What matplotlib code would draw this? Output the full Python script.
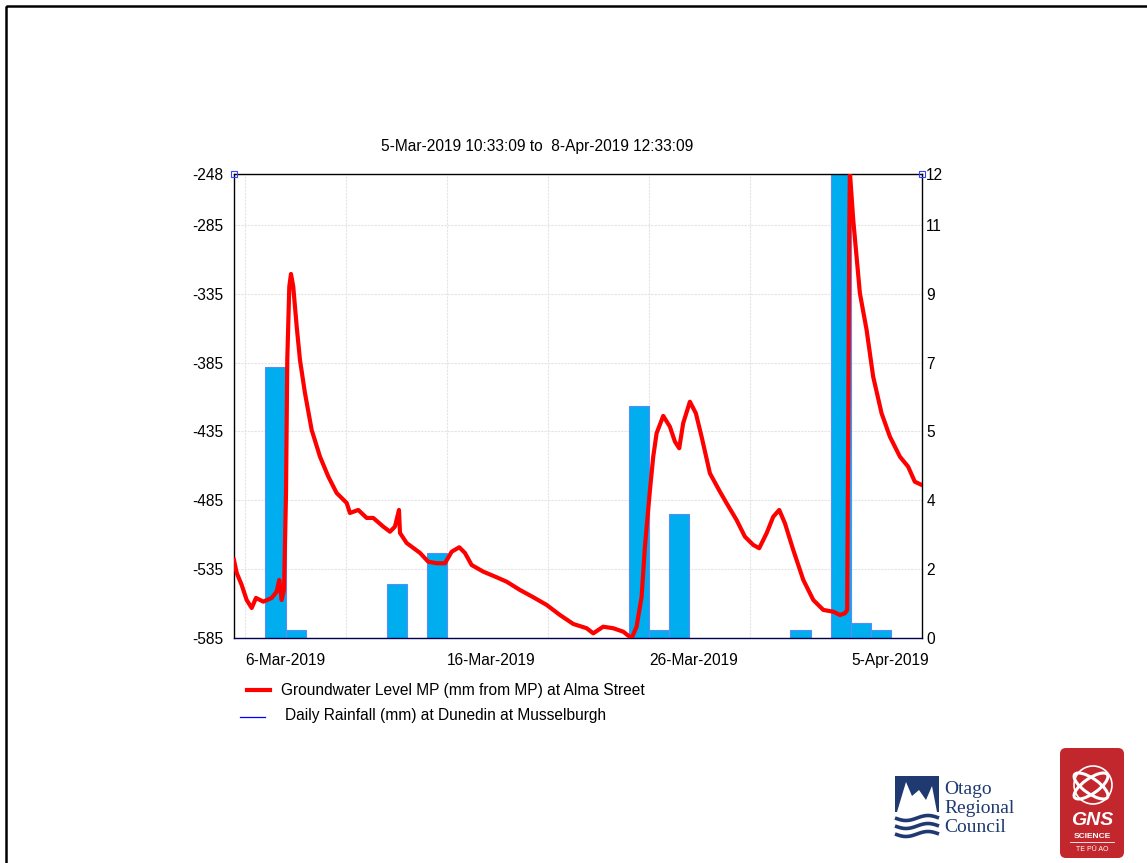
import numpy as np
import pandas as pd
import matplotlib
matplotlib.use("Agg")
import matplotlib.pyplot as plt
import matplotlib.transforms as mtrans
from matplotlib.patches import Rectangle, FancyBboxPatch, Ellipse, Polygon, Circle

plt.rcParams['font.family'] = ['Liberation Sans', 'DejaVu Sans']

# ---- data ----
t_start = pd.Timestamp('2019-03-05 10:33:09')
t_end = pd.Timestamp('2019-04-08 12:33:09')

# groundwater level, hours after 2019-03-05 00:00
gw_hours = [10.5, 13.8, 19.7, 25.6, 31.6, 36.7, 45.4, 55.4, 61.3, 64.4, 67.2, 70.0,
            72.4, 73.9, 76.3, 78.3, 81.0, 85.1, 89.0, 94.9, 102.9, 112.8, 122.7, 132.6,
            144.5, 148.4, 158.3, 168.3, 176.1, 188.0, 196.0, 201.9, 206.7, 207.9, 215.8,
            231.7, 241.5, 251.5, 261.4, 269.4, 278.4, 285.1, 293.1, 306.9, 322.8, 334.7,
            350.5, 366.4, 382.3, 398.1, 413.9, 429.8, 437.7, 449.5, 461.4, 473.3, 483.3,
            489.2, 495.2, 499.1, 505.1, 509.0, 513.0, 520.9, 528.8, 534.8, 539.9, 544.6,
            552.6, 559.7, 566.5, 576.4, 588.3, 596.2, 608.1, 618.0, 627.9, 635.0, 643.8,
            651.7, 658.8, 665.6, 675.5, 687.4, 699.3, 711.2, 723.1, 731.0, 737.0, 739.6,
            740.8, 742.0, 742.8, 746.8, 754.7, 762.7, 770.5, 780.5, 790.4, 802.3, 812.1,
            820.0, 828.5]
gw_level = [-528.3, -537.8, -546.5, -557.4, -563.2, -555.9, -558.6, -555.9, -551.3, -542.8,
            -557.4, -550.1, -479.7, -383.1, -329.8, -320.6, -329.8, -358.9, -383.1, -407.0,
            -433.9, -453.3, -467.8, -479.7, -486.9, -494.2, -492.0, -497.8, -497.8, -504.1,
            -507.8, -504.1, -492.0, -508.7, -516.0, -523.2, -529.6, -530.7, -530.7, -522.3,
            -519.1, -523.2, -532.0, -536.8, -540.9, -544.1, -550.1, -555.4, -561.0, -568.3,
            -574.8, -577.9, -581.6, -576.8, -577.9, -580.4, -585.2, -576.8, -555.0, -518.7,
            -477.5, -453.3, -436.3, -423.7, -431.5, -442.4, -447.2, -429.0, -413.4, -421.8,
            -438.8, -465.4, -478.7, -487.1, -499.3, -511.4, -517.4, -519.8, -508.9, -496.9,
            -492.0, -501.7, -521.1, -542.8, -557.4, -564.6, -565.9, -568.3, -567.0, -564.6,
            -438.8, -293.5, -246.5, -281.4, -334.6, -361.3, -395.2, -421.8, -438.8, -453.3,
            -460.6, -471.5, -473.9]

rain_days = ['2019-03-07', '2019-03-08', '2019-03-13', '2019-03-15', '2019-03-25',
             '2019-03-26', '2019-03-27', '2019-04-02', '2019-04-04', '2019-04-05',
             '2019-04-06']
rain_mm = [7.0, 0.2, 1.4, 2.2, 6.0, 0.2, 3.2, 0.2, 16.0, 0.4, 0.2]

level_ticks = [-585, -535, -485, -435, -385, -335, -285, -248]
level_lim = (-585, -248)
rain_lim = (0, 12)
grid_days = pd.date_range('2019-03-06', periods=7, freq='5D')

title = '5-Mar-2019 10:33:09 to  8-Apr-2019 12:33:09'
gw_label = 'Groundwater Level MP (mm from MP) at Alma Street'
rain_label = 'Daily Rainfall (mm) at Dunedin at Musselburgh'

FS = 11.2
W, H = 1147, 863
fig = plt.figure(figsize=(W / 100, H / 100), dpi=100)

# rainfall axes (bottom layer, carries grid and right ticks)
ax = fig.add_axes([234 / W, 1 - 638 / H, 688 / W, 464 / H])
ax.bar(pd.to_datetime(rain_days), rain_mm, width=1.0, align='edge',
       color='#00adef', edgecolor='#5b8cf5', linewidth=0.8, zorder=2)
ax.set_xlim(t_start, t_end)
ax.set_ylim(*rain_lim)

# groundwater axes on top
ax2 = ax.twinx()
ax2.plot(t_start.normalize() + pd.to_timedelta(gw_hours, unit='h'), gw_level,
         color='#ff0000', linewidth=3.0, solid_joinstyle='round', zorder=3)
ax2.set_ylim(*level_lim)
ax2.set_xlim(t_start, t_end)
ax2.yaxis.tick_left()
ax2.set_yticks(level_ticks)
ax2.set_yticklabels([str(v) for v in level_ticks])
ax2.tick_params(axis='y', length=0, labelsize=FS, pad=8)
for s in ax2.spines.values():
    s.set_visible(False)

# rainfall ticks on the right, level with the left ones, labels rounded
ax.yaxis.tick_right()
right_pos = [(v - level_lim[0]) / (level_lim[1] - level_lim[0]) * rain_lim[1] for v in level_ticks]
ax.set_yticks(right_pos)
ax.set_yticklabels([str(int(round(p))) for p in right_pos])

ax.set_xticks(grid_days)
ax.set_xticklabels([d.strftime('%-d-%b-%Y') if i % 2 == 0 else '' for i, d in enumerate(grid_days)])
for lab in ax.get_xticklabels():
    lab.set_horizontalalignment('left')
    lab.set_transform(lab.get_transform() + mtrans.ScaledTranslation(-3 / 100, 0, fig.dpi_scale_trans))

ax.grid(True, color='#e4e4e4', linewidth=0.8, linestyle=(0, (2, 1)))
ax.set_axisbelow(True)
ax.tick_params(axis='both', length=0, labelsize=FS)
ax.tick_params(axis='x', pad=11)
ax.tick_params(axis='y', pad=3)
for s in ax.spines.values():
    s.set_color('black')
    s.set_linewidth(1.0)
ax.spines['bottom'].set_color('#000050')

# little corner markers
ax2.plot([t_start, t_end], [level_lim[1], level_lim[1]], linestyle='none', marker='s',
         markersize=4, markerfacecolor='none', markeredgecolor='#3344ff',
         markeredgewidth=0.8, clip_on=False, zorder=5)

fig.text(381 / W, 1 - 147 / H, title, fontsize=FS, ha='left', va='center')

# page decorations in pixel coordinates
deco = fig.add_axes([0, 0, 1, 1], zorder=-1)
deco.set_xlim(0, W)
deco.set_ylim(H, 0)
deco.axis('off')
deco.add_patch(Rectangle((6, 6), W + 20, H + 20, fill=False, edgecolor='black', linewidth=1.8))

# legend
deco.plot([247, 270], [690, 690], color='#ff0000', linewidth=3)
deco.text(281, 690, gw_label, fontsize=FS, va='center', ha='left')
deco.plot([240, 265], [717, 717], color='#0000ff', linewidth=0.9)
deco.text(285, 715, rain_label, fontsize=FS, va='center', ha='left')

# Otago Regional Council logo (approximate)
navy = '#1f3a70'
deco.add_patch(Rectangle((895, 776), 44, 36, facecolor=navy, edgecolor='none'))
deco.add_patch(Polygon([(897, 812), (906, 782), (912, 796), (919, 790), (926, 800),
                        (932, 786), (937, 812)], closed=True, facecolor='white', edgecolor='none'))
wx = np.linspace(895, 939, 30)
for yy in [818, 826, 834]:
    deco.plot(wx, yy + 2.5 * np.sin((wx - 895) / 44 * 2 * np.pi), color=navy, linewidth=2.6,
              solid_capstyle='butt')
for k, word in enumerate(['Otago', 'Regional', 'Council']):
    deco.text(944, 789 + 19 * k, word, fontsize=14, family='Liberation Serif', color=navy,
              va='center', ha='left')

# GNS Science logo (approximate)
red = '#c1272d'
deco.add_patch(FancyBboxPatch((1060, 748), 64, 110, boxstyle='round,pad=0,rounding_size=6',
                              facecolor=red, edgecolor='none'))
deco.add_patch(Ellipse((1091, 786), 40, 15, angle=35, fill=False, edgecolor='white', linewidth=2.2))
deco.add_patch(Ellipse((1091, 786), 40, 15, angle=-35, fill=False, edgecolor='white', linewidth=2.2))
deco.add_patch(Circle((1093, 785), 19, fill=False, edgecolor='white', linewidth=1.2))
deco.text(1092, 820, 'GNS', fontsize=14, fontweight='bold', fontstyle='italic', color='white',
          ha='center', va='center')
deco.text(1092, 836, 'SCIENCE', fontsize=6, fontweight='bold', color='white', ha='center', va='center')
deco.plot([1070, 1114], [842, 842], color='white', linewidth=0.6)
deco.text(1092, 849, 'TE PŪ AO', fontsize=5, color='white', ha='center', va='center')

fig.savefig('out.png', dpi=100)
